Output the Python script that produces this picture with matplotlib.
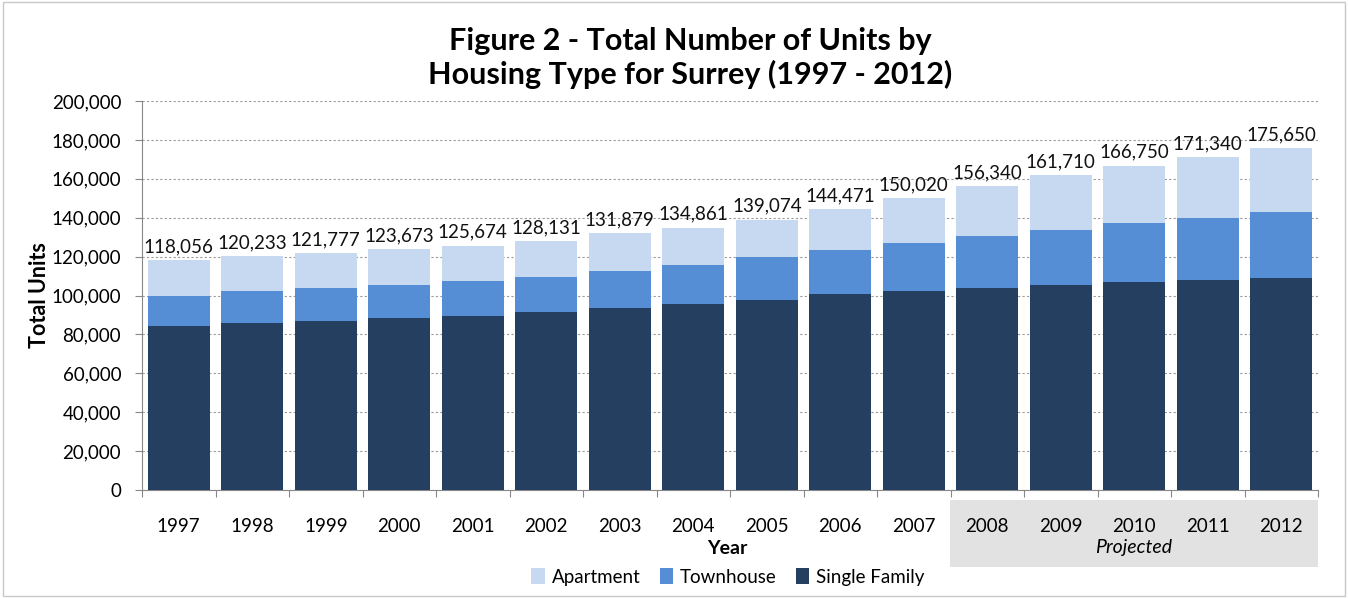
import matplotlib.pyplot as plt
from matplotlib.patches import Rectangle
from matplotlib.ticker import FuncFormatter, MultipleLocator

years = ['1997', '1998', '1999', '2000', '2001', '2002', '2003', '2004',
         '2005', '2006', '2007', '2008', '2009', '2010', '2011', '2012']
single_family = [84300, 85800, 86800, 88400, 89400, 91300, 93500, 95700,
                 97900, 101000, 102400, 103800, 105500, 106700, 107900, 109100]
townhouse = [15700, 16600, 17000, 16900, 17800, 18300, 19300, 20200,
             21800, 22600, 24400, 26800, 28300, 30400, 32100, 33800]
totals = [118056, 120233, 121777, 123673, 125674, 128131, 131879, 134861,
          139074, 144471, 150020, 156340, 161710, 166750, 171340, 175650]
# apartments make up the rest of each year's total
apartment = [t - s - h for t, s, h in zip(totals, single_family, townhouse)]

c_sf = '#243f60'
c_th = '#558ed5'
c_apt = '#c6d9f1'

plt.rcParams['font.family'] = ['Lato', 'DejaVu Sans']

W, H = 1348, 598
fig = plt.figure(figsize=(W / 100, H / 100), dpi=100)
ax = fig.add_axes([142 / W, 1 - 490 / H, (1318 - 142) / W, (490 - 101) / H])

x = range(len(years))
ax.bar(x, single_family, width=0.84, color=c_sf, label='Single Family', zorder=3)
ax.bar(x, townhouse, width=0.84, bottom=single_family, color=c_th,
       label='Townhouse', zorder=3)
bottom2 = [s + h for s, h in zip(single_family, townhouse)]
ax.bar(x, apartment, width=0.84, bottom=bottom2, color=c_apt,
       label='Apartment', zorder=3)

for i, t in enumerate(totals):
    ax.text(i, t + 2500, f'{t:,}', ha='center', va='bottom', fontsize=13.5,
            color='#111111')

ax.set_xlim(-0.5, len(years) - 0.5)
ax.set_ylim(0, 200000)
ax.yaxis.set_major_locator(MultipleLocator(20000))
ax.yaxis.set_major_formatter(FuncFormatter(lambda v, p: f'{int(v):,}'))
ax.grid(axis='y', linestyle=(0, (2, 2)), color='#9a9a9a', linewidth=0.8, zorder=0)
ax.tick_params(axis='y', labelsize=13.5, length=5, color='#888888', pad=10)

ax.set_xticks([i + 0.5 for i in range(-1, len(years))], minor=False)
ax.set_xticklabels([])
ax.set_xticks(list(x), minor=True)
ax.set_xticklabels(years, minor=True, fontsize=13.5)
ax.tick_params(axis='x', which='major', length=5, color='#888888')
ax.tick_params(axis='x', which='minor', length=0, pad=20)

for side in ('top', 'right'):
    ax.spines[side].set_visible(False)
ax.spines['left'].set_color('#888888')
ax.spines['bottom'].set_color('#888888')

ax.set_ylabel('Total Units', fontsize=15.5, fontweight='bold', labelpad=1)

# shaded block marking the projected years, kept behind the year labels
ax.add_patch(Rectangle((950 / W, 1 - 567 / H), (1318 - 950) / W, (567 - 500) / H,
                       transform=fig.transFigure, facecolor='#e2e2e2',
                       edgecolor='none', zorder=0.5, clip_on=False))
fig.text(1134 / W, 1 - 547 / H, 'Projected', ha='center', va='center',
         fontsize=14, style='italic')
fig.text(727 / W, 1 - 549 / H, 'Year', ha='center', va='center',
         fontsize=14, fontweight='bold')

fig.text(690 / W, 1 - 58 / H, 'Figure 2 - Total Number of Units by\nHousing Type for Surrey (1997 - 2012)',
         ha='center', va='center', fontsize=22, fontweight='bold', linespacing=1.2)

handles, labels = ax.get_legend_handles_labels()
fig.legend(handles[::-1], labels[::-1], loc='center', bbox_to_anchor=(728 / W, 1 - 577 / H),
           ncol=3, frameon=False, fontsize=13.5, handlelength=0.7, handleheight=0.9,
           handletextpad=0.4, columnspacing=1.0)

# thin frame round the whole figure
fig.patches.append(Rectangle((0.002, 0.003), 0.996, 0.994, transform=fig.transFigure,
                             facecolor='none', edgecolor='#c8c8c8', linewidth=1))

fig.savefig('out.png', dpi=100)
